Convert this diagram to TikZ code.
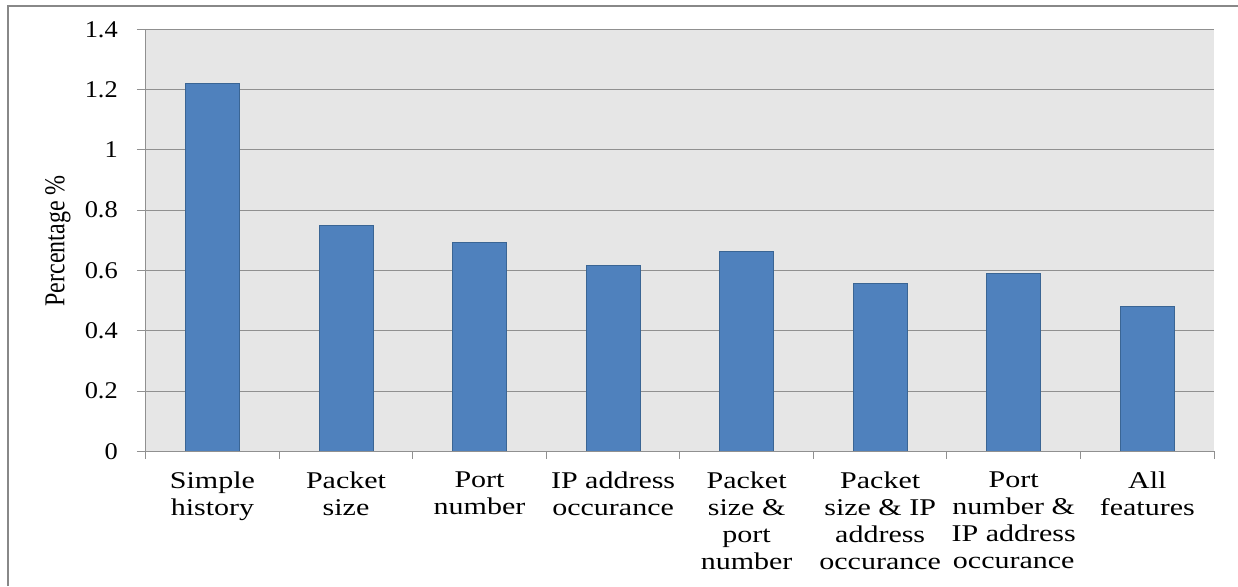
\documentclass[tikz,border=0pt]{standalone}
\usepackage{fontspec}
\setmainfont{Liberation Serif}
\definecolor{barfill}{HTML}{4F81BD}
\definecolor{baredge}{HTML}{3A6594}
\definecolor{plotbg}{HTML}{E6E6E6}
\definecolor{gridgray}{HTML}{909090}
\definecolor{framegray}{HTML}{888888}
\tikzset{
  chartframe/.style={draw=framegray, line width=2pt},
  gridline/.style={draw=gridgray, line width=1pt},
  axisline/.style={draw=gridgray, line width=1pt},
  barbox/.style={fill=barfill, draw=baredge, line width=0.9pt},
  ticklabel/.style={font=\fontsize{24}{26.5}\selectfont, inner sep=0pt, anchor=east, xscale=1.1},
  catlabel/.style={font=\fontsize{24}{27}\selectfont, inner sep=0pt, anchor=north, align=center, xscale=1.25},
  axislabel/.style={font=\fontsize{24}{26.5}\selectfont, inner sep=0pt, rotate=90}
}
\begin{document}
\begin{tikzpicture}[x=1pt, y=1pt]
\useasboundingbox (0,0) rectangle (1238,586);
% outer chart frame (left and top edges)
\draw[chartframe] (8.3,0) -- (8.3,580) -- (1238,580);
% plot area: one unit in x per category, one unit in y per percent
\begin{scope}[shift={(145.7,134.7)}, x=133.54pt, y=301.43pt]
  \fill[plotbg] (0,0) rectangle (8,1.4);
  \foreach \v in {0.2,0.4,0.6,0.8,1.0,1.2,1.4}
    \draw[gridline] (0,\v) -- (8,\v);
  % bars
  \foreach \i/\v in {1/1.22, 2/0.748, 3/0.694, 4/0.615, 5/0.663, 6/0.556, 7/0.590, 8/0.479}
    \draw[barbox] (\i-0.5-0.2022,0) rectangle (\i-0.5+0.2022,\v);
  % axes and tick marks
  \draw[axisline] (0,0) -- (0,1.4);
  \draw[axisline] ([xshift=-8.8pt]0,0) -- (8,0);
  \foreach \v in {0.2,0.4,0.6,0.8,1.0,1.2,1.4}
    \draw[axisline] ([xshift=-8.8pt]0,\v) -- (0,\v);
  \foreach \i in {0,...,8}
    \draw[axisline] (\i,0) -- ([yshift=-8pt]\i,0);
  % value labels
  \foreach \v/\t [count=\k] in {0/0, 0.2/0.2, 0.4/0.4, 0.6/0.6, 0.8/0.8, 1/1, 1.2/1.2, 1.4/1.4}
    \node[ticklabel] (ytick\k) at ([xshift=-27.7pt]0,\v) {\t};
  % category labels
  \node[catlabel] (cat1) at ([yshift=-20.3pt]0.5,0) {Simple\\history};
  \node[catlabel] (cat2) at ([yshift=-20.3pt]1.5,0) {Packet\\size};
  \node[catlabel] (cat3) at ([yshift=-20.3pt]2.5,0) {Port\\number};
  \node[catlabel] (cat4) at ([yshift=-20.3pt]3.5,0) {IP address\\occurance};
  \node[catlabel] (cat5) at ([yshift=-20.3pt]4.5,0) {Packet\\size \&\\port\\number};
  \node[catlabel] (cat6) at ([yshift=-20.3pt]5.5,0) {Packet\\size \& IP\\address\\occurance};
  \node[catlabel] (cat7) at ([yshift=-20.3pt]6.5,0) {Port\\number \&\\IP address\\occurance};
  \node[catlabel] (cat8) at ([yshift=-20.3pt]7.5,0) {All\\features};
\end{scope}
\node[axislabel] (ylabel) at (58,345) {\scalebox{1}[1.2]{Percentage \%}};
\end{tikzpicture}
\end{document}
